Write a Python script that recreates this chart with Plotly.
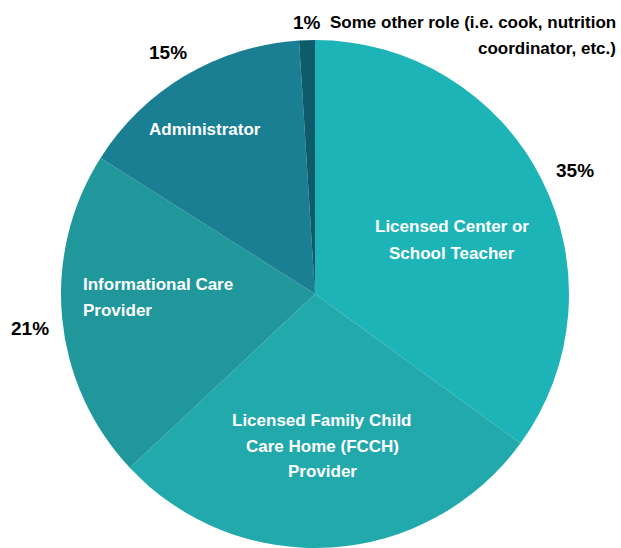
import plotly.graph_objects as go

# Survey responses by role
roles = [
    "Licensed Center or School Teacher",
    "Licensed Family Child Care Home (FCCH) Provider",
    "Informational Care Provider",
    "Administrator",
    "Some other role (i.e. cook, nutrition coordinator, etc.)",
]
shares = [35, 28, 21, 15, 1]

# Text shown inside / beside each slice (line breaks as drawn)
slice_names = [
    ["Licensed Center or", "School Teacher"],
    ["Licensed Family Child", "Care Home (FCCH)", "Provider"],
    ["Informational Care", "Provider"],
    ["Administrator"],
    ["Some other role (i.e. cook, nutrition", "coordinator, etc.)"],
]
colors = ["#1db4b8", "#21a9ac", "#20979b", "#1a7f93", "#0e5b69"]

W, H = 621, 548
R = 254
CX, CY = 315, 294

# Label placement in pixels: (x, y of first line, anchor, name color)
name_pos = [
    (452, 227, "center", "white"),
    (322, 420, "center", "white"),
    (81, 284, "left", "white"),
    (205, 129, "center", "white"),
    (618, 22, "right", "black"),
]
# Percent label placement in pixels (None = not shown)
pct_pos = [(575, 170), None, (30, 328), (168, 53), (307, 22)]

fig = go.Figure(
    go.Pie(
        labels=roles,
        values=shares,
        sort=False,
        direction="clockwise",
        rotation=0,
        marker=dict(colors=colors, line=dict(width=0)),
        textinfo="none",
        hoverinfo="label+percent",
        showlegend=False,
        domain=dict(x=[(CX - R) / W, (CX + R) / W], y=[(H - CY - R) / H, (H - CY + R) / H]),
    )
)

FONT = "Liberation Sans, Arial, sans-serif"
LINE = 26
annotations = []
for lines, (px, py, anchor, col) in zip(slice_names, name_pos):
    for i, line in enumerate(lines):
        annotations.append(dict(
            x=px / W, y=1 - (py + i * LINE) / H, xref="paper", yref="paper",
            text=line, showarrow=False, xanchor=anchor, yanchor="middle",
            font=dict(family=FONT, size=17, color=col, weight=700),
        ))
for val, pos in zip(shares, pct_pos):
    if pos is None:
        continue
    annotations.append(dict(
        x=pos[0] / W, y=1 - pos[1] / H, xref="paper", yref="paper",
        text=f"{val}%", showarrow=False, xanchor="center", yanchor="middle",
        font=dict(family=FONT, size=19, color="black", weight=700),
    ))

fig.update_layout(
    width=W, height=H,
    margin=dict(l=0, r=0, t=0, b=0),
    paper_bgcolor="white",
    plot_bgcolor="white",
    annotations=annotations,
)

fig.write_html("out.html")
